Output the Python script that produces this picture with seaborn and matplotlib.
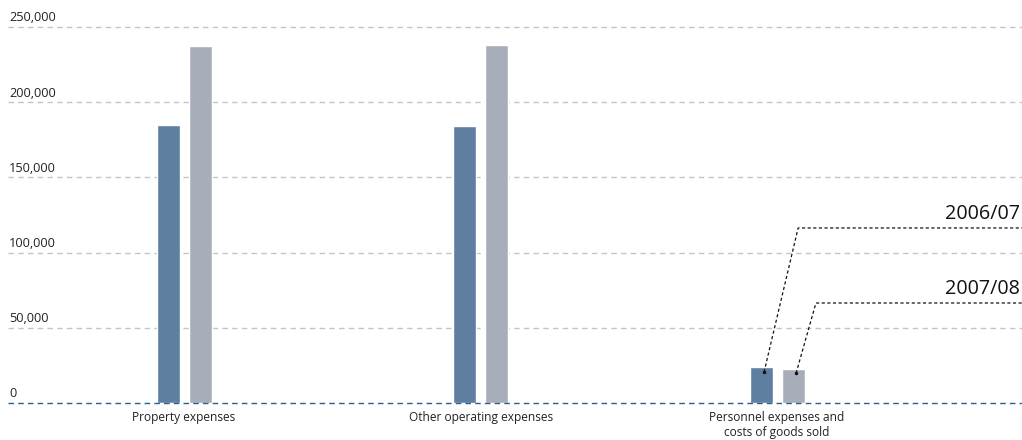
import matplotlib
matplotlib.use("Agg")
import matplotlib.pyplot as plt
import matplotlib.transforms as mtransforms
import seaborn as sns
import pandas as pd

categories = ["Property expenses", "Other operating expenses",
              "Personnel expenses and\ncosts of goods sold"]
years = ["2006/07", "2007/08"]
values_2006 = [184800, 184200, 24000]
values_2007 = [237400, 238000, 22600]
yticks = [0, 50000, 100000, 150000, 200000, 250000]

df = pd.DataFrame({
    "category": categories * 2,
    "year": [years[0]] * 3 + [years[1]] * 3,
    "value": values_2006 + values_2007,
})

sns.set_theme(style="white")
plt.rcParams['font.family'] = ['Open Sans', 'DejaVu Sans']

fig = plt.figure(figsize=(10.22, 4.40), dpi=100)
ax = fig.add_axes([8 / 1022, 37 / 440, 1014 / 1022, 403 / 440])

palette = {"2006/07": "#5f7fa0", "2007/08": "#a8aeb9"}
sns.barplot(data=df, x="category", y="value", hue="year", order=categories,
            hue_order=years, palette=palette, width=0.216, gap=0.28,
            legend=False, ax=ax, saturation=1)

ax.set_xlim(-0.594, 2.826)
ax.set_ylim(0, 268000)
for s in ax.spines.values():
    s.set_visible(False)
ax.set_xlabel("")
ax.set_ylabel("")
ax.set_yticks([])
ax.tick_params(axis="x", length=0, pad=6, labelsize=8.6, colors="#222222")
ax.set_xticks(range(len(categories)))
ax.set_xticklabels(categories, fontsize=8.6, linespacing=1.15)

trans = mtransforms.blended_transform_factory(ax.transAxes, ax.transData)
for t in yticks:
    if t == 0:
        ax.axhline(0, color="#2b5d92", lw=1, ls=(0, (4, 3)), zorder=3, clip_on=False)
    else:
        ax.axhline(t, color="#c4c4c4", lw=1, ls=(0, (4, 3)), zorder=0)
    ax.text(0.001, t + 1800, f"{t:,}", transform=trans, fontsize=9.2,
            color="#222222", ha="left", va="bottom")

# Legend-style callouts
callouts = [
    (years[0], 1.956, 20600, 2.071, 116400),
    (years[1], 2.064, 19800, 2.131, 66500),
]
for label, x0, y0, x1, y1 in callouts:
    ax.plot([x0, x1, 2.826], [y0, y1, y1], color="#111111", lw=0.9,
            ls=(0, (2.5, 2)), zorder=5, clip_on=False)
    ax.plot([x0], [y0], marker="o", ms=1.5, color="#111111", zorder=6)
    ax.text(2.82, y1 + 2500, label, fontsize=14.2, color="#111111",
            ha="right", va="bottom")

fig.savefig("out.png", dpi=100)
